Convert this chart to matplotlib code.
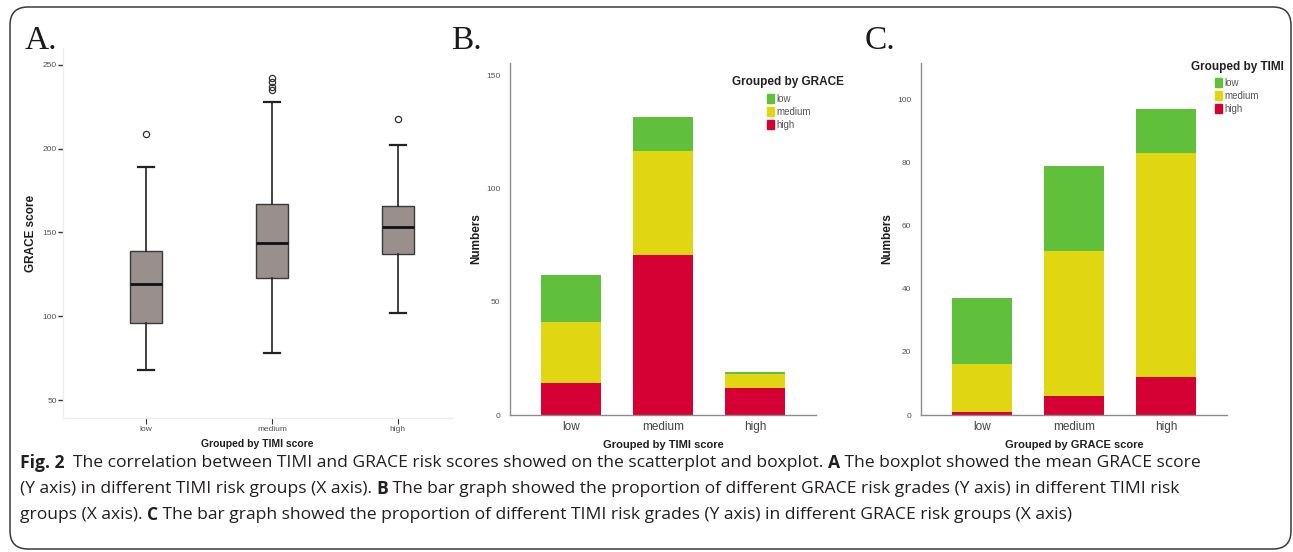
import matplotlib
matplotlib.use("Agg")
import matplotlib.pyplot as plt
from matplotlib.patches import FancyBboxPatch, Patch
import numpy as np

# ---------------- data ----------------
groups = ["low", "medium", "high"]

# Panel A: GRACE score by TIMI group (box statistics)
box_whislo = [68, 78, 102]
box_q1 = [96, 123, 137]
box_med = [119.5, 144, 153]
box_q3 = [139, 167, 166]
box_whishi = [189, 228, 202]
box_fliers = [[209], [235, 237, 240, 242], [218]]

# Panel B: counts by TIMI group, split by GRACE grade
b_high = [14, 71, 12]
b_medium = [27, 46, 6]
b_low = [21, 15, 1]

# Panel C: counts by GRACE group, split by TIMI grade
c_high = [1, 6, 12]
c_medium = [15, 46, 71]
c_low = [21, 27, 14]

grade_colors = {"low": "#61c03b", "medium": "#e1d612", "high": "#d50034"}

W, H = 1293, 552
fig = plt.figure(figsize=(W / 100, H / 100), dpi=100)
fig.patch.set_facecolor("white")
plt.rcParams["font.family"] = ["Liberation Sans", "DejaVu Sans"]


def add_ax(l, t, r, b):
    return fig.add_axes([l / W, 1 - b / H, (r - l) / W, (b - t) / H])


def px(x, y):
    return x / W, 1 - y / H


# outer rounded frame
frame = FancyBboxPatch(px(10, 549), (1281) / W, (542) / H,
                       boxstyle="round,pad=0,rounding_size=0.014",
                       transform=fig.transFigure, fill=False,
                       edgecolor="#3a3a3a", linewidth=1.1, zorder=0,
                       mutation_aspect=W / H)
fig.patches.append(frame)

# panel letters
for lab, x in [("A.", 25), ("B.", 451), ("C.", 865)]:
    fig.text(*px(x, 49), lab, fontsize=24, family=["Liberation Serif"],
             color="#1a1a1a", ha="left", va="baseline")

tick_col = "#555555"
lab_col = "#1e1e1e"

# ---------------- Panel A ----------------
axA = add_ax(63, 48, 452, 418)
stats = []
for i, g in enumerate(groups):
    stats.append(dict(med=box_med[i], q1=box_q1[i], q3=box_q3[i],
                      whislo=box_whislo[i], whishi=box_whishi[i],
                      fliers=box_fliers[i], label=g))
axA.bxp(stats, positions=[0, 1, 2], widths=0.255, patch_artist=True,
        showfliers=True,
        boxprops=dict(facecolor="#998f8c", edgecolor="#3a3a3a", linewidth=1.0),
        medianprops=dict(color="#111111", linewidth=2.0),
        whiskerprops=dict(color="#222222", linewidth=1.2),
        capprops=dict(color="#222222", linewidth=1.6),
        capwidths=0.13,
        flierprops=dict(marker="o", markersize=4.5, markerfacecolor="none",
                        markeredgecolor="#333333", markeredgewidth=0.9))
axA.set_xlim(-0.66, 2.43)
axA.set_ylim(39.3, 260.1)
axA.set_yticks([50, 100, 150, 200, 250])
axA.set_xticks([0, 1, 2])
axA.set_xticklabels(groups)
for s in ["top", "right"]:
    axA.spines[s].set_visible(False)
for s in ["left", "bottom"]:
    axA.spines[s].set_color("#ececec")
    axA.spines[s].set_linewidth(1.0)
axA.tick_params(axis="y", length=3.5, width=1.0, color="#333333",
                labelsize=6, labelcolor=tick_col, pad=1)
axA.tick_params(axis="x", length=4, width=0.8, color="#333333",
                labelsize=6, labelcolor=tick_col, pad=2)
axA.set_ylabel("GRACE score", fontsize=8.5, fontweight="bold",
               color=lab_col, labelpad=4)
axA.set_xlabel("Grouped by TIMI score", fontsize=7.5, fontweight="bold",
               color=lab_col, labelpad=4)


# ---------------- Panels B & C ----------------
def stacked(ax, high, medium, low, ymax, yticks, xlabel, ltitle, title_xy, leg_xy):
    x = np.arange(len(groups))
    w = 0.652
    ax.bar(x, high, w, color=grade_colors["high"], label="high")
    ax.bar(x, medium, w, bottom=high, color=grade_colors["medium"], label="medium")
    bot = [h + m for h, m in zip(high, medium)]
    ax.bar(x, low, w, bottom=bot, color=grade_colors["low"], label="low")
    ax.set_xlim(-0.663, 2.663)
    ax.set_ylim(0, ymax)
    ax.set_yticks(yticks)
    ax.set_xticks(x)
    ax.set_xticklabels(groups)
    for s in ["top", "right"]:
        ax.spines[s].set_visible(False)
    for s in ["left", "bottom"]:
        ax.spines[s].set_color("#8c8c8c")
        ax.spines[s].set_linewidth(1.0)
    ax.tick_params(axis="y", length=0, labelsize=6, labelcolor=tick_col, pad=7)
    ax.tick_params(axis="x", length=0, labelsize=8.5, labelcolor="#444444", pad=4)
    ax.set_ylabel("Numbers", fontsize=8.5, fontweight="bold", color=lab_col,
                  labelpad=3)
    ax.set_xlabel(xlabel, fontsize=8, fontweight="bold", color=lab_col,
                  labelpad=5)
    fig.text(*px(*title_xy), ltitle, fontsize=8.5, fontweight="bold",
             color="#222222", ha="center", va="center")
    handles = [Patch(color=grade_colors[g]) for g in groups]
    leg = ax.legend(handles, groups, frameon=False,
                    loc="upper left", bbox_to_anchor=px(*leg_xy),
                    bbox_transform=fig.transFigure,
                    fontsize=7, handlelength=0.75,
                    handleheight=1.0, handletextpad=0.2, labelspacing=0.3,
                    borderpad=0, borderaxespad=0)
    for t in leg.get_texts():
        t.set_color("#555555")


axB = add_ax(510, 63, 816, 415)
stacked(axB, b_high, b_medium, b_low, 155.75, [0, 50, 100, 150],
        "Grouped by TIMI score", "Grouped by GRACE", (788, 82), (767, 94))

axC = add_ax(921, 63, 1227, 415)
stacked(axC, c_high, c_medium, c_low, 111.5, [0, 20, 40, 60, 80, 100],
        "Grouped by GRACE score", "Grouped by TIMI", (1237, 67), (1215, 78))

# ---------------- Caption ----------------
cap_lines = [
    [("Fig. 2", True), ("  The correlation between TIMI and GRACE risk scores showed on the scatterplot and boxplot. ", False),
     ("A", True), (" The boxplot showed the mean GRACE score", False)],
    [("(Y axis) in different TIMI risk groups (X axis). ", False), ("B", True),
     (" The bar graph showed the proportion of different GRACE risk grades (Y axis) in different TIMI risk", False)],
    [("groups (X axis). ", False), ("C", True),
     (" The bar graph showed the proportion of different TIMI risk grades (Y axis) in different GRACE risk groups (X axis)", False)],
]
cap_y = [463, 489, 515]
cap_size = 12.6
renderer = fig.canvas.get_renderer()
for line, yy in zip(cap_lines, cap_y):
    x0 = 20
    for txt, bold in line:
        t = fig.text(*px(x0, yy), txt, fontsize=cap_size,
                     family=["Open Sans", "DejaVu Sans"],
                     fontweight="bold" if bold else "normal",
                     color="#231f20", ha="left", va="center")
        bb = t.get_window_extent(renderer=renderer)
        x0 += bb.width

fig.savefig("out.png", dpi=100, facecolor="white")
